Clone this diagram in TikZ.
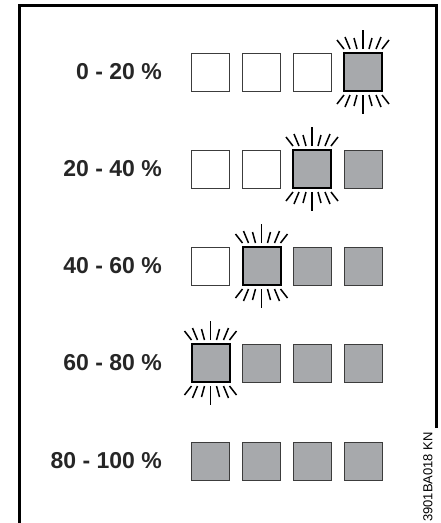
\documentclass[tikz,border=0pt]{standalone}
\usepackage{fontspec}
\setmainfont{Liberation Sans}
\definecolor{lampgray}{HTML}{A7A9AC}
\definecolor{edgegray}{HTML}{3C3C3C}
\tikzset{
  lamp/.style={minimum width=38pt, minimum height=38pt, inner sep=0pt, outer sep=0pt},
  lampoff/.style={lamp, draw=edgegray, line width=1pt, fill=white},
  lampon/.style={lamp, draw=edgegray, line width=1pt, fill=lampgray},
  lampblink/.style={lamp, draw=black, line width=2pt, fill=lampgray},
  ray/.style={draw=black, line width=1.5pt},
  pctlabel/.style={anchor=east, inner sep=0pt, font=\bfseries\fontsize{23}{23}\selectfont, text=black!85},
  frameline/.style={draw=black, line width=3pt}
}
\newcommand\blinkrays[1]{%
  \begin{scope}[shift={(#1.center)}]
    \foreach \a/\b/\c/\d in {-19/23/-26/32, -13/23/-18/35, -6/23/-9/34, 0/23/0/42, 6/23/9/34, 13/23/18/35, 19/23/26/32} {
      \draw[ray] (\a,-\b) -- (\c,-\d);
      \draw[ray] (\a,\b) -- (\c,\d);
    }
  \end{scope}}
\begin{document}
\begin{tikzpicture}[x=1pt,y=-1pt]
\useasboundingbox (0,0) rectangle (440,523);
% frame
\draw[frameline] (436.5,428) -- (436.5,5.5) -- (19.5,5.5) -- (19.5,530);
\node[rotate=90, inner sep=0pt, font=\fontsize{13}{13}\selectfont] (code) at (428,477) {3901BA018 KN};
% row 1
\node[pctlabel] (l1) at (162,72) {0 - 20 \%};
\node[lampoff] (s11) at (210.5,72) {};
\node[lampoff] (s12) at (261.5,72) {};
\node[lampoff] (s13) at (312,72) {};
\node[lampblink] (s14) at (363,72) {};
\blinkrays{s14}
% row 2
\node[pctlabel] (l2) at (162,169) {20 - 40 \%};
\node[lampoff] (s21) at (210.5,169) {};
\node[lampoff] (s22) at (261.5,169) {};
\node[lampblink] (s23) at (312,169) {};
\node[lampon] (s24) at (363,169) {};
\blinkrays{s23}
% row 3
\node[pctlabel] (l3) at (162,266) {40 - 60 \%};
\node[lampoff] (s31) at (210.5,266) {};
\node[lampblink] (s32) at (261.5,266) {};
\node[lampon] (s33) at (312,266) {};
\node[lampon] (s34) at (363,266) {};
\blinkrays{s32}
% row 4
\node[pctlabel] (l4) at (162,363) {60 - 80 \%};
\node[lampblink] (s41) at (210.5,363) {};
\node[lampon] (s42) at (261.5,363) {};
\node[lampon] (s43) at (312,363) {};
\node[lampon] (s44) at (363,363) {};
\blinkrays{s41}
% row 5
\node[pctlabel] (l5) at (162,461) {80 - 100 \%};
\node[lampon] (s51) at (210.5,461) {};
\node[lampon] (s52) at (261.5,461) {};
\node[lampon] (s53) at (312,461) {};
\node[lampon] (s54) at (363,461) {};
\end{tikzpicture}
\end{document}
